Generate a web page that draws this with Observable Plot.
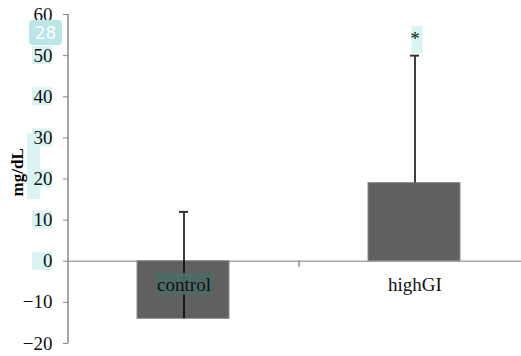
<!DOCTYPE html>
<html><head><meta charset="utf-8">
<script src="https://cdn.jsdelivr.net/npm/d3@7"></script>
<script src="https://cdn.jsdelivr.net/npm/@observablehq/plot@0.6"></script>
<style>
body{margin:0;background:#fff;}
#chart{position:relative;width:521px;height:356px;}
#chart svg, #chart svg text{font-family:'Liberation Serif','Times New Roman',serif;}
</style></head>
<body><div id="chart"></div>
<script>
const categories = ["control", "highGI"];
const means = [-14, 19];
const errors = [26, 31];
const yTicks = [-20, -10, 0, 10, 20, 30, 40, 50, 60];
const highlightedTicks = [0, 10, 20, 30, 40, 50];
const significance = ["", "*"];
const badgeText = "28";

const data = categories.map((c, i) => ({cat: c, v: means[i], e: errors[i], sig: significance[i]}));
const serif = "Liberation Serif, Times New Roman, serif";

const plot = Plot.plot({
  width: 521, height: 356,
  marginLeft: 68, marginRight: -9, marginTop: 14, marginBottom: 13,
  style: {fontFamily: serif, fontSize: "19px", color: "#111", background: "#fff"},
  x: {domain: categories, padding: 0, axis: null},
  y: {domain: [-20, 60], ticks: yTicks, label: null},
  marks: [
    Plot.ruleY([0], {stroke: "#aaa", strokeWidth: 1.5}),
    Plot.barY(data, {x: "cat", y: "v", fill: "#606060", stroke: "#8a8a8a", strokeWidth: 1, insetLeft: 69, insetRight: 70}),
    Plot.ruleX(data, {x: "cat", y1: "v", y2: d => d.v + d.e, stroke: "#000", strokeWidth: 1.5}),
    Plot.tickY(data, {x: "cat", y: d => d.v + d.e, stroke: "#333", strokeWidth: 2, insetLeft: 111, insetRight: 111}),
    Plot.axisY({ticks: yTicks, tickSize: 5, tickPadding: 11, stroke: "#888", label: null, fontSize: 19, fill: "#111", fontFamily: serif}),
    Plot.text(data, {x: "cat", y: 0, text: "cat", dy: 24, fill: "#111", fontSize: 19, fontFamily: serif}),
    Plot.text(data, {x: "cat", y: d => d.v + d.e, text: "sig", dy: -17, fill: "#111", fontSize: 19, fontFamily: serif})
  ]
});
document.getElementById("chart").appendChild(plot);

const svg = d3.select(plot);
const ys = plot.scale("y");
const xs = plot.scale("x");
// y axis line
svg.append("line").attr("x1", 68).attr("x2", 68).attr("y1", ys.apply(60)).attr("y2", ys.apply(-20)).attr("stroke", "#888").attr("stroke-width", 1.5);
// category separator tick
const sep = xs.apply("highGI");
svg.append("line").attr("x1", sep).attr("x2", sep).attr("y1", ys.apply(0)).attr("y2", ys.apply(0) + 6).attr("stroke", "#888").attr("stroke-width", 1.5);

// teal highlight annotations (under text)
const hl = svg.insert("g", ":first-child");
highlightedTicks.forEach(t => {
  hl.append("rect").attr("x", 32).attr("width", 20).attr("y", ys.apply(t) - 9).attr("height", 18).attr("fill", "#d9f4f3");
});
hl.append("rect").attr("x", 27).attr("width", 13).attr("y", ys.apply(31)).attr("height", ys.apply(15) - ys.apply(31)).attr("fill", "#d9f4f3");
const hiTop = means[1] + errors[1];
hl.append("rect").attr("x", xs.apply("highGI") + xs.bandwidth / 2 - 3).attr("width", 11).attr("y", ys.apply(hiTop) - 29).attr("height", 27).attr("fill", "#d9f4f3");
// control label highlight over bar
const cx = xs.apply("control") + xs.bandwidth / 2;
const textGroups = plot.querySelectorAll("g[aria-label='text']");
const before = textGroups.length ? textGroups[0] : null;
const hlc = document.createElementNS("http://www.w3.org/2000/svg", "rect");
d3.select(hlc).attr("x", cx - 28).attr("width", 57).attr("y", ys.apply(0) + 12).attr("height", 22).attr("fill", "#4c6b67").attr("opacity", 0.9);
if (before) plot.insertBefore(hlc, before); else plot.appendChild(hlc);

// badge
const badge = svg.append("g");
badge.append("rect").attr("x", 29).attr("y", 20).attr("width", 33).attr("height", 25).attr("rx", 4).attr("fill", "#b9e6e6");
badge.append("text").attr("x", 45.5).attr("y", 38.5).attr("text-anchor", "middle").attr("fill", "#fff").style("font-family", "'DejaVu Sans', sans-serif").attr("font-size", 17).text(badgeText);

// y label
svg.append("text").attr("transform", `translate(23,${ys.apply(21.5)}) rotate(-90)`).attr("text-anchor", "middle").attr("font-weight", "bold").attr("font-size", 17).attr("fill", "#000").text("mg/dL");
</script></body></html>
